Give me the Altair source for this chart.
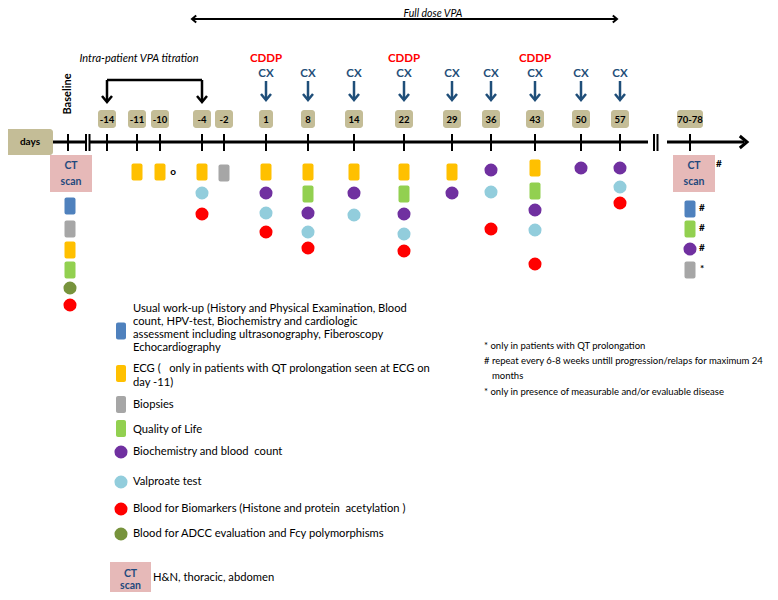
import altair as alt
import pandas as pd

FONT = "Lato"

# ---------------- data ----------------
days = ["Baseline", "-14", "-11", "-10", "-4", "-2", "1", "8", "14", "22",
        "29", "36", "43", "50", "57", "70-78"]
day_slot = [68, 107, 137, 160, 202, 224, 266, 308, 354, 404,
            452, 491, 535, 581, 620, 690]
cx_days = ["1", "8", "14", "22", "29", "36", "43", "50", "57"]
cddp_days = ["1", "22", "43"]

items = ["workup", "ecg", "biopsy", "qol", "biochem", "valproate", "biomarker", "adcc"]
item_colors = ["#4f81bd", "#ffc000", "#a6a6a6", "#92d050", "#7030a0", "#92cddc", "#ff0000", "#77933c"]
item_kinds = ["rect", "rect", "rect", "rect", "dot", "dot", "dot", "dot"]

# assessments per visit (item, vertical level in the column)
schedule = {
    "Baseline": [("workup", 206), ("biopsy", 229), ("ecg", 250), ("qol", 270), ("adcc", 288), ("biomarker", 305)],
    "-11": [("ecg", 172)],
    "-10": [("ecg", 172)],
    "-4": [("ecg", 172), ("valproate", 193), ("biomarker", 214)],
    "-2": [("biopsy", 173)],
    "1": [("ecg", 172), ("biochem", 193), ("valproate", 213), ("biomarker", 232)],
    "8": [("ecg", 172), ("qol", 194), ("biochem", 213), ("valproate", 232), ("biomarker", 248)],
    "14": [("ecg", 172), ("biochem", 193), ("valproate", 215)],
    "22": [("ecg", 172), ("qol", 194), ("biochem", 214), ("valproate", 234), ("biomarker", 251)],
    "29": [("ecg", 172), ("biochem", 193)],
    "36": [("biochem", 170), ("valproate", 192), ("biomarker", 229)],
    "43": [("ecg", 168), ("qol", 191), ("biochem", 210), ("valproate", 230), ("biomarker", 264)],
    "50": [("biochem", 168)],
    "57": [("biochem", 168), ("valproate", 187), ("biomarker", 203)],
    "70-78": [("workup", 209), ("qol", 229), ("biochem", 249), ("biopsy", 270)],
}
followup_marks = ["#", "#", "#", "*"]

legend_items = ["workup", "ecg", "biopsy", "qol", "biochem", "valproate", "biomarker", "adcc"]
legend_lines = [
    ["Usual work-up (History and Physical Examination, Blood",
     "count, HPV-test, Biochemistry and cardiologic",
     "assessment including ultrasonography, Fiberoscopy",
     "Echocardiography"],
    ["ECG (\u00a0\u00a0 only in patients with QT prolongation seen at ECG on", "day -11)"],
    ["Biopsies"],
    ["Quality of Life"],
    ["Biochemistry and blood\u00a0 count"],
    ["Valproate test"],
    ["Blood for Biomarkers (Histone and protein\u00a0 acetylation )"],
    ["Blood for ADCC evaluation and Fcy polymorphisms"],
]
ct_legend = "H&N, thoracic, abdomen"
notes = ["* only in patients with QT prolongation",
         "# repeat every 6-8 weeks untill progression/relaps for maximum 24",
         "months",
         "* only in presence of measurable and/or evaluable disease"]

# ---------------- layout helpers ----------------
slot = dict(zip(days, day_slot))
col = dict(zip(items, item_colors))
kind = dict(zip(items, item_kinds))
TAN = "#c4bd97"
PINK = "#e6b9b8"
CTBLUE = "#1f497d"
CXBLUE = "#1f4e79"

XS = alt.Scale(domain=[8, 770], nice=False, zero=False)
YS = alt.Scale(domain=[8, 592], nice=False, zero=False, reverse=True)


def X(f):
    return alt.X(f"{f}:Q", scale=XS, axis=None)


def Y(f):
    return alt.Y(f"{f}:Q", scale=YS, axis=None)


def text_layer(rows, size=10, weight="normal", style="normal", color="black", align="center",
               angle=0, baseline="middle"):
    df = pd.DataFrame(rows, columns=["x", "y", "text"])
    return alt.Chart(df).mark_text(font=FONT, fontSize=size, fontWeight=weight, fontStyle=style,
                                   color=color, align=align, baseline=baseline, angle=angle).encode(
        x=X("x"), y=Y("y"), text="text:N")


# markers
rect_rows, dot_rows = [], []
for d, entries in schedule.items():
    for it, lv in entries:
        x = slot[d] + (2 if d == "Baseline" else 0)
        if kind[it] == "rect":
            rect_rows.append(dict(x=x - 5.5, x2=x + 5.5, y=lv - 8.5, y2=lv + 8.5, fill=col[it]))
        else:
            dot_rows.append(dict(x=x, y=lv, fill=col[it]))

# legend symbols
leg_y = [331, 373.5, 404.5, 428.5, 452, 482, 509, 534]
for it, yy in zip(legend_items, leg_y):
    if kind[it] == "rect":
        rect_rows.append(dict(x=116, x2=126, y=yy - 8.5, y2=yy + 8.5, fill=col[it]))
    else:
        dot_rows.append(dict(x=121, y=yy, fill=col[it]))

rects = alt.Chart(pd.DataFrame(rect_rows)).mark_rect(cornerRadius=2).encode(
    x=X("x"), x2="x2", y=Y("y"), y2="y2", color=alt.Color("fill:N", scale=None))
dots = alt.Chart(pd.DataFrame(dot_rows)).mark_circle(size=170, opacity=1).encode(
    x=X("x"), y=Y("y"), color=alt.Color("fill:N", scale=None))

# tan label boxes
box_rows = [dict(x=0, x2=53, y=129, y2=155)]
for d in days[1:]:
    w = 14 if len(d) == 1 else (26 if len(d) > 3 else 18)
    box_rows.append(dict(x=slot[d] - w / 2, x2=slot[d] + w / 2, y=110, y2=128))
boxes = alt.Chart(pd.DataFrame(box_rows)).mark_rect(cornerRadius=3, color=TAN).encode(
    x=X("x"), x2="x2", y=Y("y"), y2="y2")

# CT scan boxes
ct_rows = [dict(x=50, x2=92, y=155, y2=192), dict(x=673, x2=715, y=155, y2=192),
           dict(x=110, x2=151, y=562, y2=600)]
ctboxes = alt.Chart(pd.DataFrame(ct_rows)).mark_rect(color=PINK).encode(
    x=X("x"), x2="x2", y=Y("y"), y2="y2")

# line segments
seg = []
seg += [(53, 142, 86, 142, 3), (89, 142, 648, 142, 3), (667, 142, 744, 142, 3)]
seg += [(86, 134, 86, 151, 2), (89.5, 134, 89.5, 151, 2), (654, 134, 654, 151, 2), (657.5, 134, 657.5, 151, 2)]
for d in days:
    seg.append((slot[d], 134, slot[d], 151, 2))
n_before_cx = len(seg)
for d in cx_days:
    seg.append((slot[d], 81, slot[d], 99, 2.5))
seg += [(107, 80, 202, 80, 2.5), (107, 80, 107, 101, 2.5), (202, 80, 202, 101, 2.5)]
seg += [(193, 19, 616, 19, 2)]
seg_df = pd.DataFrame(seg, columns=["x", "y", "x2", "y2", "w"])
seg_df["c"] = ["black"] * len(seg_df)
seg_df.loc[n_before_cx:n_before_cx + len(cx_days) - 1, "c"] = CXBLUE
lines = alt.Chart(seg_df).mark_rule().encode(
    x=X("x"), x2="x2", y=Y("y"), y2="y2",
    strokeWidth=alt.StrokeWidth("w:Q", scale=None), color=alt.Color("c:N", scale=None))

# arrow heads
DOWN = "M-1,-1.2L0,0L1,-1.2"
LEFT = "M1.2,-1L0,0L1.2,1"
RIGHT = "M-1.2,-1L0,0L-1.2,1"
heads = [(slot[d], 100, DOWN, 100, 2.5, CXBLUE) for d in cx_days]
heads += [(107, 102, DOWN, 100, 2.5, "black"), (202, 102, DOWN, 100, 2.5, "black")]
heads += [(192, 19, LEFT, 49, 2, "black"), (617, 19, RIGHT, 49, 2, "black")]
heads += [(747, 142, RIGHT, 144, 3, "black")]
head_df = pd.DataFrame(heads, columns=["x", "y", "shape", "size", "w", "c"])
arrows = alt.Chart(head_df).mark_point(filled=False, opacity=1).encode(
    x=X("x"), y=Y("y"), shape=alt.Shape("shape:N", scale=None), size=alt.Size("size:Q", scale=None),
    strokeWidth=alt.StrokeWidth("w:Q", scale=None), color=alt.Color("c:N", scale=None))

# texts
t_days = text_layer([(30, 142, "days")], size=10, weight="bold")
t_labels = text_layer([(slot[d], 119.5, d) for d in days[1:]], size=9.5, weight="bold")
t_base = text_layer([(68, 94, "Baseline")], size=11, weight="bold", angle=270)
t_ital = text_layer([(139, 59, "Intra-patient VPA titration")], size=11, style="italic")
t_full = text_layer([(433, 16.5, "Full dose VPA")], size=10.5, style="italic", baseline="alphabetic")
t_cddp = text_layer([(slot[d], 59, "CDDP") for d in cddp_days], size=11.5, weight="bold", color="#ff0000")
t_cx = text_layer([(slot[d], 74, "CX") for d in cx_days], size=11.5, weight="bold", color=CXBLUE)
t_ct = text_layer([(71, 166, "CT"), (71, 182, "scan"), (694, 166, "CT"), (694, 182, "scan"),
                   (130.5, 574, "CT"), (130.5, 586, "scan")], size=10.5, weight="bold", color=CTBLUE)
sym_rows = [(173, 172, "o"), (719, 164, "#")]
for (it, lv), m in zip(schedule["70-78"], followup_marks):
    sym_rows.append((702, lv - 1, m))
t_sym = text_layer(sym_rows, size=10, weight="bold")

leg_rows = []
line_y = [[309, 322, 335, 348], [369, 383], [405], [430], [452], [482], [509], [534]]
for ls, ys in zip(legend_lines, line_y):
    for s, yy in zip(ls, ys):
        leg_rows.append((133, yy, s))
leg_rows.append((153, 578, ct_legend))
t_leg = text_layer(leg_rows, size=11.2, align="left")

note_rows = []
note_pos = [(484, 346), (484, 361), (492, 376), (484, 392)]
for s, (xx, yy) in zip(notes, note_pos):
    note_rows.append((xx, yy, s))
t_notes = text_layer(note_rows, size=9.5, align="left")

chart = alt.layer(
    lines, boxes, ctboxes, rects, dots, arrows,
    t_days, t_labels, t_base, t_ital, t_full, t_cddp, t_cx, t_ct, t_sym, t_leg, t_notes
).properties(
    width=762, height=584, padding=0, autosize=alt.AutoSizeParams(type="none"), background="white"
).configure_view(strokeWidth=0)

chart.save("out.html", embed_options={"renderer": "svg", "actions": False})
